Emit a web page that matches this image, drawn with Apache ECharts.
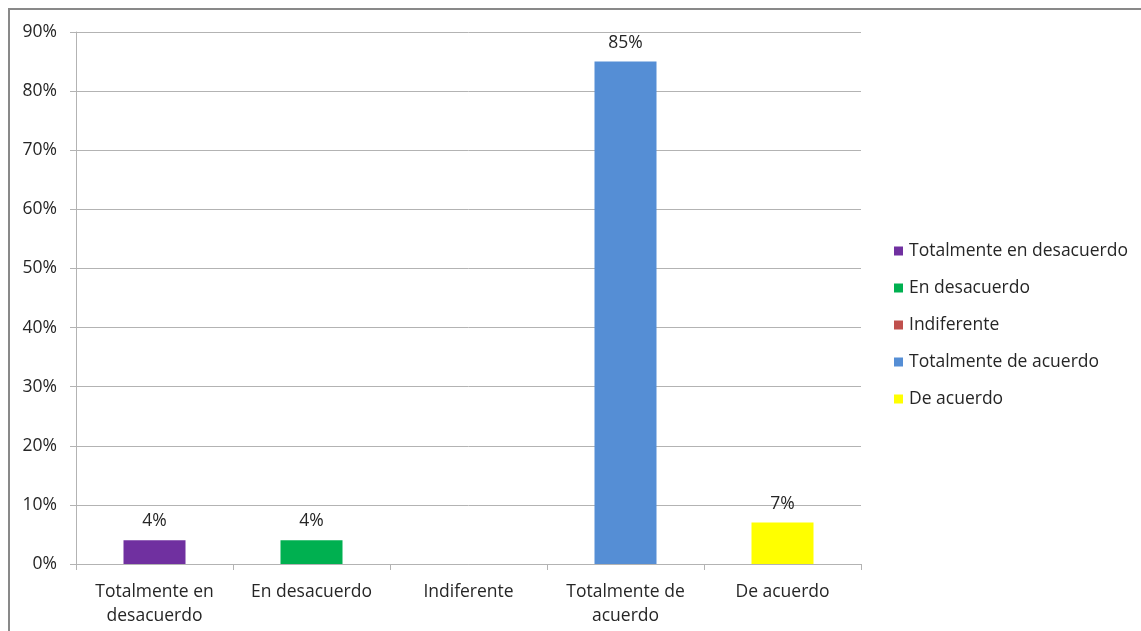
<!DOCTYPE html>
<html>
<head>
<meta charset="utf-8">
<script src="https://cdn.jsdelivr.net/npm/echarts@6/dist/echarts.min.js"></script>
<style>
  html, body { margin: 0; padding: 0; background: #fff; }
  #chart { width: 1141px; height: 631px; }
</style>
</head>
<body>
<div id="chart"></div>
<script>
// Survey responses, share of respondents per answer
const categories = ['Totalmente en desacuerdo', 'En desacuerdo', 'Indiferente', 'Totalmente de acuerdo', 'De acuerdo'];
const axisLabels = ['Totalmente en\ndesacuerdo', 'En desacuerdo', 'Indiferente', 'Totalmente de\nacuerdo', 'De acuerdo'];
const values = [4, 4, 0, 85, 7];
const colors = ['#7030A0', '#00B050', '#C0504D', '#558ED5', '#FFFF00'];
const yTicks = { min: 0, max: 90, interval: 10 };

const font = '"Open Sans", sans-serif';
const fs = 17.5;

// One series per answer so each gets its own legend entry; stacking keeps bars centred
const series = categories.map((name, i) => ({
  name: name,
  type: 'bar',
  stack: 'answers',
  barWidth: 62,
  itemStyle: { color: colors[i] },
  label: {
    show: true,
    position: 'top',
    distance: 10,
    fontFamily: font,
    fontSize: fs,
    color: '#262626',
    formatter: p => (p.value ? p.value + '%' : '')
  },
  data: values.map((v, j) => (j === i ? v : '-'))
}));

const chart = echarts.init(document.getElementById('chart'), null, { renderer: 'canvas' });
chart.setOption({
  animation: false,
  backgroundColor: '#fff',
  graphic: [{
    type: 'rect',
    shape: { x: 9, y: 9, width: 1150, height: 640 },
    style: { fill: 'none', stroke: '#898989', lineWidth: 2 },
    silent: true
  }],
  grid: { left: 76, right: 280, top: 32, bottom: 67, containLabel: false },
  legend: {
    orient: 'vertical',
    left: 889,
    top: 236,
    icon: 'rect',
    itemWidth: 9,
    itemHeight: 9,
    itemGap: 17,
    textStyle: { fontFamily: font, fontSize: fs, color: '#262626', lineHeight: 20, padding: [0, 0, 0, 1] },
    data: categories
  },
  xAxis: {
    type: 'category',
    data: axisLabels,
    axisLine: { lineStyle: { color: '#B3B3B3', width: 1 } },
    axisTick: { show: true, length: 6, alignWithLabel: false, lineStyle: { color: '#B3B3B3' } },
    axisLabel: { fontFamily: font, fontSize: fs, color: '#262626', lineHeight: 24, margin: 16, interval: 0 }
  },
  yAxis: {
    type: 'value',
    min: yTicks.min,
    max: yTicks.max,
    interval: yTicks.interval,
    axisLine: { show: true, lineStyle: { color: '#B3B3B3', width: 1 } },
    axisTick: { show: true, length: 6, lineStyle: { color: '#B3B3B3' } },
    splitLine: { show: true, lineStyle: { color: '#B3B3B3', width: 1 } },
    axisLabel: { fontFamily: font, fontSize: fs, color: '#262626', margin: 19, formatter: '{value}%' }
  },
  series: series
});
</script>
</body>
</html>
